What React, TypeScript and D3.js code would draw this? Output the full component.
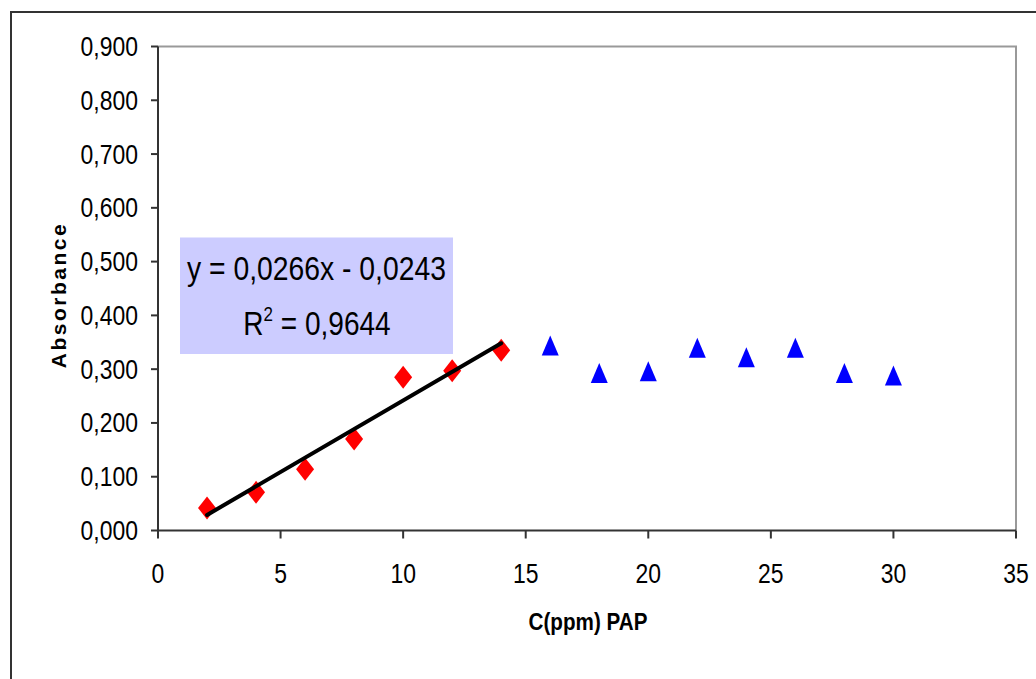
import React from "react";
import * as d3 from "d3";

const linearX = [2, 4, 6, 8, 10, 12, 14];
const linearY = [0.042, 0.071, 0.114, 0.17, 0.285, 0.297, 0.335];
const plateauX = [16, 18, 20, 22, 24, 26, 28, 30];
const plateauY = [0.344, 0.293, 0.296, 0.34, 0.322, 0.34, 0.293, 0.288];
const xTicks = [0, 5, 10, 15, 20, 25, 30, 35];
const yTicks = [0, 0.1, 0.2, 0.3, 0.4, 0.5, 0.6, 0.7, 0.8, 0.9];
const slope = 0.0266;
const intercept = -0.0243;
const r2Label = "0,9644";
const eqLabel = "y = 0,0266x - 0,0243";

const W = 1036;
const H = 679;
const L = 158;
const R = 1016;
const T = 46.5;
const B = 530.5;
const FONT = "'Liberation Sans', Arial, sans-serif";
const SX = 0.85;

export default function App() {
  const x = d3.scaleLinear().domain([0, 35]).range([L, R]);
  const y = d3.scaleLinear().domain([0, 0.9]).range([B, T]);
  const fmtY = (v: number) => d3.format(".3f")(v).replace(".", ",");
  const line = d3
    .line<number>()
    .x((d) => x(d))
    .y((d) => y(slope * d + intercept));
  const trendX = [linearX[0], linearX[linearX.length - 1]];
  const diamond = (cx: number, cy: number) =>
    `M${cx},${cy - 11.5}L${cx + 9},${cy}L${cx},${cy + 11.5}L${cx - 9},${cy}Z`;
  const tri = (cx: number, cy: number) =>
    `M${cx},${cy - 10}L${cx + 8.5},${cy + 10}L${cx - 8.5},${cy + 10}Z`;

  return (
    <svg
      width={W}
      height={H}
      style={{ position: "absolute", left: 0, top: 0 }}
    >
      <rect x={0} y={0} width={W} height={H} fill="#fff" />
      {/* outer frame */}
      <rect x={11} y={12} width={1100} height={800} fill="none" stroke="#333" strokeWidth={2} />
      {/* plot area border */}
      <path d={`M${L},${T}H${R}V${B}`} fill="none" stroke="#999" strokeWidth={2} />

      {/* equation box */}
      <rect x={180} y={237.5} width={273} height={116.5} fill="#ccccff" />
      <text
        x={316.5}
        y={280}
        fontFamily={FONT}
        fontSize={33}
        textAnchor="middle"
        textLength={259}
        lengthAdjust="spacingAndGlyphs"
      >
        {eqLabel}
      </text>
      <g transform={`translate(317,335) scale(0.85,1)`}>
        <text x={0} y={0} fontFamily={FONT} fontSize={33} textAnchor="middle">
          R<tspan fontSize={20} dy={-14}>2</tspan>
          <tspan dy={14}>{" = " + r2Label}</tspan>
        </text>
      </g>

      {/* markers */}
      {linearX.map((d, i) => (
        <path key={"d" + i} d={diamond(x(d), y(linearY[i]))} fill="#ff0000" />
      ))}
      {plateauX.map((d, i) => (
        <path key={"t" + i} d={tri(x(d), y(plateauY[i]))} fill="#0000ff" />
      ))}
      {/* trend line over diamonds */}
      <path d={line(trendX) || ""} fill="none" stroke="#000" strokeWidth={4} strokeLinecap="round" />

      {/* axes */}
      <line x1={L} x2={L} y1={T} y2={B} stroke="#333" strokeWidth={2} />
      <line x1={L} x2={R} y1={B} y2={B} stroke="#333" strokeWidth={2} />
      {yTicks.map((t) => (
        <g key={"yt" + t}>
          <line x1={L - 7} x2={L} y1={y(t)} y2={y(t)} stroke="#333" strokeWidth={2} />
          <g transform={`translate(138,${y(t) + 9.5}) scale(${SX},1)`}>
            <text fontFamily={FONT} fontSize={27} textAnchor="end" fill="#000">
              {fmtY(t)}
            </text>
          </g>
        </g>
      ))}
      {xTicks.map((t) => (
        <g key={"xt" + t}>
          <line x1={x(t)} x2={x(t)} y1={B} y2={B + 8} stroke="#333" strokeWidth={2} />
          <g transform={`translate(${x(t)},583) scale(${SX},1)`}>
            <text fontFamily={FONT} fontSize={27} textAnchor="middle" fill="#000">
              {t}
            </text>
          </g>
        </g>
      ))}

      {/* axis titles */}
      <g transform={`translate(588,630) scale(0.86,1)`}>
        <text fontFamily={FONT} fontSize={24} fontWeight="bold" textAnchor="middle">
          C(ppm) PAP
        </text>
      </g>
      <text
        transform={`translate(66,295) rotate(-90)`}
        fontFamily={FONT}
        fontSize={21}
        fontWeight="bold"
        textAnchor="middle"
        letterSpacing={2.5}
      >
        Absorbance
      </text>
    </svg>
  );
}
